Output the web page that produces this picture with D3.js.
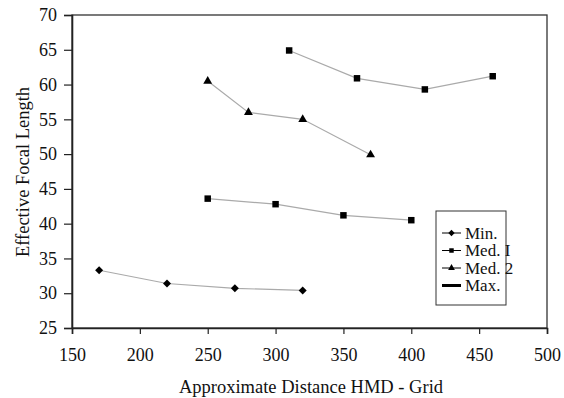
<!DOCTYPE html>
<html>
<head>
<meta charset="utf-8">
<script src="https://cdn.jsdelivr.net/npm/d3@7"></script>
<style>
  body { margin: 0; background: #fff; }
  text { font-family: "Liberation Serif", "Times New Roman", serif; fill: #111; }
</style>
</head>
<body>
<svg id="chart" width="564" height="398"></svg>
<script>
// series data
const minX = [170, 220, 270, 320];
const minY = [33.3, 31.4, 30.7, 30.4];
const med1X = [250, 300, 350, 400];
const med1Y = [43.6, 42.8, 41.2, 40.5];
const med2X = [250, 280, 320, 370];
const med2Y = [60.5, 56.0, 55.0, 49.9];
const maxX = [310, 360, 410, 460];
const maxY = [64.9, 60.9, 59.3, 61.2];

const xTicks = [150, 200, 250, 300, 350, 400, 450, 500];
const yTicks = [25, 30, 35, 40, 45, 50, 55, 60, 65, 70];
const legendLabels = ["Min.", "Med. I", "Med. 2", "Max."];

const svg = d3.select("#chart");
const plotLeft = 72, plotRight = 547, plotTop = 15, plotBottom = 328;

let x = d3.scaleLinear().domain([150, 500]).range([plotLeft, plotRight]);
let y = d3.scaleLinear().domain([25, 70]).range([plotBottom, plotTop]);

// frame
svg.append("rect")
    .attr("x", plotLeft).attr("y", plotTop)
    .attr("width", plotRight - plotLeft).attr("height", plotBottom - plotTop)
    .attr("fill", "none").attr("stroke", "#333").attr("stroke-width", 1.3);

// axes
let xAxis = svg.append("g")
    .attr("transform", "translate(0," + plotBottom + ")")
    .call(d3.axisBottom(x).tickValues(xTicks).tickSize(6).tickPadding(14));
let yAxis = svg.append("g")
    .attr("transform", "translate(" + plotLeft + ",0)")
    .call(d3.axisLeft(y).tickValues(yTicks).tickSize(8).tickPadding(7));

[xAxis, yAxis].forEach(function (g) {
    g.select(".domain").attr("stroke", "#222").attr("stroke-width", 1.6);
    g.selectAll(".tick line").attr("stroke", "#222").attr("stroke-width", 1.2);
    g.selectAll("text")
        .attr("font-family", "Liberation Serif, serif")
        .attr("font-size", 18)
        .attr("fill", "#111");
});

// axis titles
svg.append("text")
    .attr("x", 311).attr("y", 393)
    .attr("text-anchor", "middle").attr("font-size", 18.5)
    .text("Approximate Distance HMD - Grid");

svg.append("text")
    .attr("transform", "translate(29,172) rotate(-90)")
    .attr("text-anchor", "middle").attr("font-size", 18.5)
    .text("Effective Focal Length");

// diamond that is as wide as it is tall
const diamond = {
    draw: function (ctx, size) {
        let r = Math.sqrt(size / 2);
        ctx.moveTo(0, -r); ctx.lineTo(r, 0); ctx.lineTo(0, r); ctx.lineTo(-r, 0); ctx.closePath();
    }
};

const series = [
    { xs: minX, ys: minY, shape: diamond, size: 32 },
    { xs: med1X, ys: med1Y, shape: d3.symbolSquare, size: 42 },
    { xs: med2X, ys: med2Y, shape: d3.symbolTriangle, size: 34 },
    { xs: maxX, ys: maxY, shape: d3.symbolSquare, size: 42 }
];

let line = d3.line()
    .x(function (d) { return x(d[0]); })
    .y(function (d) { return y(d[1]); });

series.forEach(function (s) {
    let pts = s.xs.map(function (v, i) { return [v, s.ys[i]]; });
    svg.append("path")
        .datum(pts)
        .attr("d", line)
        .attr("fill", "none")
        .attr("stroke", "#aaa")
        .attr("stroke-width", 1.2);
    svg.append("g").selectAll("path")
        .data(pts)
        .enter()
        .append("path")
        .attr("transform", function (d) { return "translate(" + x(d[0]) + "," + y(d[1]) + ")"; })
        .attr("d", d3.symbol().type(s.shape).size(s.size))
        .attr("fill", "#000");
});

// legend
let lg = svg.append("g").attr("transform", "translate(436,211)");
lg.append("rect")
    .attr("width", 70).attr("height", 94)
    .attr("fill", "#fff").attr("stroke", "#333").attr("stroke-width", 1);

legendLabels.forEach(function (lab, i) {
    let ly = 22 + i * 17.5;
    lg.append("line")
        .attr("x1", 6).attr("x2", 25).attr("y1", ly).attr("y2", ly)
        .attr("stroke", "#000").attr("stroke-width", i === 3 ? 3 : 1);
    if (i < 3) {
        lg.append("path")
            .attr("transform", "translate(15.5," + ly + ")")
            .attr("d", d3.symbol().type(series[i].shape).size(20))
            .attr("fill", "#000");
    }
    lg.append("text")
        .attr("x", 29).attr("y", ly + 5.5)
        .attr("font-size", 17)
        .text(lab);
});
</script>
</body>
</html>
